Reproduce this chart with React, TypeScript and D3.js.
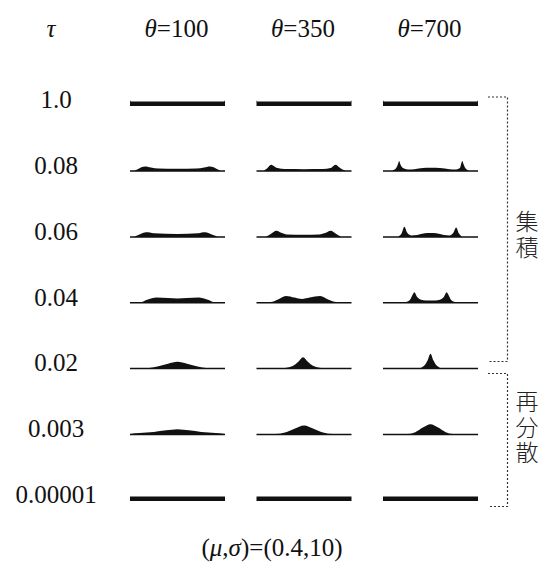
import * as d3 from "d3";

type Pt = [number, number];

const taus = ["1.0", "0.08", "0.06", "0.04", "0.02", "0.003", "0.00001"];
const thetas = ["100", "350", "700"];
const groupLabels = ["集積", "再分散"];

// density profiles: [position 0..1, density] for θ=100, 350, 700
const flatTop: Pt[] = [[0, 5.3], [0.012, 4.1], [0.988, 4.1], [1, 5.3]];
const flatBottom: Pt[] = [[0, 4.1], [1, 4.1]];

const tau008: Pt[][] = [
  [[0, 1.4], [0.04, 1.4], [0.08, 2.5], [0.12, 4.2], [0.16, 5], [0.22, 4], [0.3, 3], [0.5, 2.8], [0.7, 3], [0.78, 4], [0.84, 5], [0.88, 4.2], [0.92, 2.5], [0.96, 1.4], [1, 1.4]],
  [[0, 1.4], [0.06, 1.4], [0.1, 2.5], [0.13, 5], [0.155, 6.5], [0.18, 5.5], [0.22, 3.5], [0.3, 2.6], [0.5, 2.5], [0.7, 2.6], [0.78, 3.5], [0.81, 5.5], [0.835, 6.5], [0.86, 5], [0.9, 2.5], [0.94, 1.4], [1, 1.4]],
  [[0, 1.4], [0.1, 1.4], [0.135, 3], [0.155, 6.5], [0.17, 10], [0.185, 6.5], [0.21, 3.5], [0.26, 2.2], [0.33, 2.5], [0.42, 3.5], [0.5, 3.8], [0.6, 3.5], [0.7, 2.5], [0.77, 2.2], [0.81, 3.5], [0.82, 6.5], [0.835, 10], [0.85, 6.5], [0.87, 3], [0.9, 1.4], [1, 1.4]],
];
const tau006: Pt[][] = [
  [[0, 1.4], [0.05, 1.4], [0.1, 3], [0.17, 5], [0.25, 4.2], [0.5, 3.5], [0.72, 4.2], [0.79, 5], [0.86, 3], [0.92, 1.4], [1, 1.4]],
  [[0, 1.4], [0.1, 1.4], [0.15, 3.5], [0.21, 6.5], [0.26, 4.5], [0.32, 3], [0.5, 2.8], [0.66, 3], [0.73, 4.5], [0.78, 6.5], [0.84, 3.5], [0.89, 1.4], [1, 1.4]],
  [[0, 1.4], [0.16, 1.4], [0.195, 3.8], [0.225, 10], [0.255, 4.5], [0.3, 2], [0.36, 2.5], [0.44, 4], [0.5, 4.3], [0.56, 4], [0.64, 2.5], [0.7, 2], [0.74, 4.5], [0.77, 9.5], [0.8, 3.8], [0.83, 1.4], [1, 1.4]],
];
const tau004: Pt[][] = [
  [[0, 1.4], [0.12, 1.4], [0.18, 3.5], [0.28, 5.5], [0.4, 5], [0.5, 4.7], [0.6, 5], [0.72, 5.5], [0.82, 3.5], [0.88, 1.4], [1, 1.4]],
  [[0, 1.4], [0.15, 1.4], [0.22, 3.5], [0.31, 7], [0.4, 5.5], [0.48, 4.2], [0.56, 5.5], [0.67, 7], [0.76, 3.5], [0.84, 1.4], [1, 1.4]],
  [[0, 1.4], [0.24, 1.4], [0.28, 3], [0.305, 7], [0.33, 10.5], [0.36, 6], [0.4, 3.5], [0.45, 2.8], [0.5, 2.8], [0.55, 2.8], [0.6, 3.5], [0.64, 6], [0.67, 10.5], [0.695, 7], [0.72, 3], [0.76, 1.4], [1, 1.4]],
];
const tau002: Pt[][] = [
  [[0, 1.4], [0.2, 1.4], [0.3, 2.8], [0.4, 5.2], [0.5, 7], [0.6, 5.2], [0.7, 2.8], [0.8, 1.4], [1, 1.4]],
  [[0, 1.4], [0.3, 1.4], [0.38, 3], [0.44, 7], [0.49, 11.3], [0.54, 7], [0.6, 3], [0.68, 1.4], [1, 1.4]],
  [[0, 1.4], [0.38, 1.4], [0.43, 3.2], [0.47, 8.5], [0.5, 14.5], [0.53, 8.5], [0.57, 3.2], [0.62, 1.4], [1, 1.4]],
];
const tau0003: Pt[][] = [
  [[0, 1.4], [0.1, 2], [0.25, 3], [0.38, 4.5], [0.5, 5.5], [0.62, 4.5], [0.75, 3], [0.9, 2], [1, 1.4]],
  [[0, 1.4], [0.2, 1.4], [0.3, 2.5], [0.4, 6], [0.5, 9], [0.6, 6], [0.7, 2.5], [0.8, 1.4], [1, 1.4]],
  [[0, 1.4], [0.26, 1.4], [0.34, 2.8], [0.42, 7], [0.5, 10], [0.58, 7], [0.66, 2.8], [0.74, 1.4], [1, 1.4]],
];

const profiles: Pt[][][] = [
  [flatTop, flatTop, flatTop],
  tau008,
  tau006,
  tau004,
  tau002,
  tau0003,
  [flatBottom, flatBottom, flatBottom],
];

const serif = "Liberation Serif";
const cjk = "Noto Sans CJK JP";

export default function App() {
  const width = 541;
  const height = 564;

  const col = d3.scaleBand().domain(thetas).range([130, 478]).paddingInner(0.249);
  const row = d3.scalePoint().domain(taus).range([106, 501]);
  const xUnit = d3.scaleLinear().domain([0, 1]).range([0, col.bandwidth()]);
  const hScale = d3.scaleLinear().domain([0, 15]).range([0, 16.2]);

  const bracketX = 507.5;
  const upperTop = 97, upperBot = 361.5, lowerTop = 373.5, lowerBot = 506.5;
  const dot = { stroke: "#333", strokeWidth: 1.2, strokeDasharray: "2,2", fill: "none" };

  // vertical labels: one char per line
  const labelTops = [230, 410];
  const labelStep = [26, 25.5];

  return (
    <svg width={width} height={height} style={{ position: "absolute", left: 0, top: 0, background: "#fff" }}>
      {/* header */}
      <text x={51} y={37} fontFamily={serif} fontSize={25} fontStyle="italic" textAnchor="middle" fill="#111">τ</text>
      {thetas.map((t) => (
        <text key={t} x={(col(t) ?? 0) + col.bandwidth() / 2 - 1} y={37} fontFamily={serif} fontSize={25} textAnchor="middle" fill="#111">
          <tspan fontStyle="italic">θ</tspan>={t}
        </text>
      ))}

      {/* rows */}
      {taus.map((tau, i) => {
        const y = row(tau) ?? 0;
        const area = d3
          .area<Pt>()
          .x((d) => xUnit(d[0]))
          .y0(y)
          .y1((d) => y - hScale(d[1]))
          .curve(d3.curveMonotoneX);
        return (
          <g key={tau}>
            <text x={56} y={y + 2} fontFamily={serif} fontSize={25} textAnchor="middle" fill="#111">{tau}</text>
            {thetas.map((t, j) => (
              <path key={t} transform={`translate(${col(t)},0)`} d={area(profiles[i][j]) ?? ""} fill="#111" />
            ))}
          </g>
        );
      })}

      {/* brackets */}
      <path d={`M488,${upperTop}H${bracketX}V${upperBot}H488`} style={dot} />
      <path d={`M488,${lowerTop}H${bracketX}V${lowerBot}H488`} style={dot} />
      {groupLabels.map((lab, g) => (
        <text key={lab} fontFamily={cjk} fontSize={23} fontWeight={300} textAnchor="middle" fill="#222">
          {Array.from(lab).map((c, k) => (
            <tspan key={k} x={527} y={labelTops[g] + k * labelStep[g]}>{c}</tspan>
          ))}
        </text>
      ))}

      {/* footer */}
      <text x={272} y={556} fontFamily={serif} fontSize={25} textAnchor="middle" fill="#111">
        (<tspan fontStyle="italic">μ</tspan>,<tspan fontStyle="italic">σ</tspan>)=(0.4,10)
      </text>
    </svg>
  );
}
